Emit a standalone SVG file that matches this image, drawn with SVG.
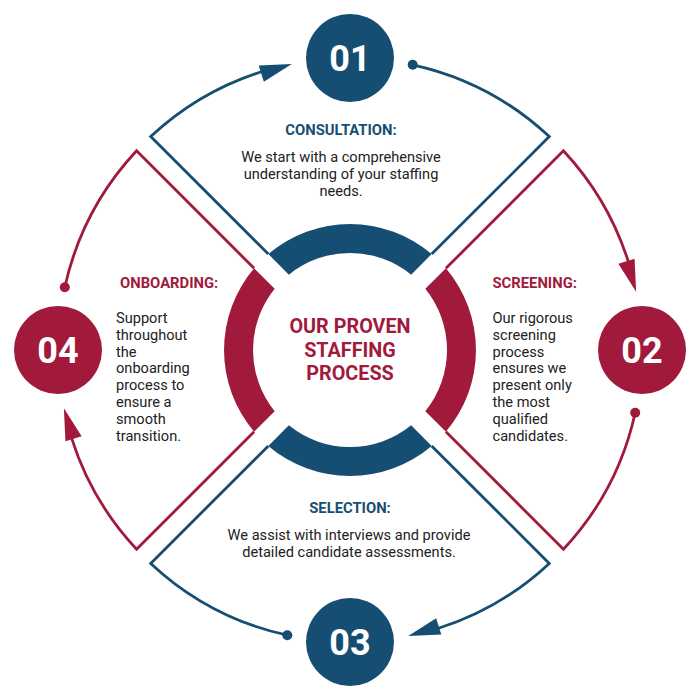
<svg xmlns="http://www.w3.org/2000/svg" xmlns:xlink="http://www.w3.org/1999/xlink" width="700" height="700" viewBox="0 0 700 700">
<style>
.blue{stroke:#164e73;fill:none;stroke-width:2.8}
.red{stroke:#a11a3c;fill:none;stroke-width:2.8}
.bfill{fill:#164e73}
.rfill{fill:#a11a3c}
.num{font-family:Roboto,"Liberation Sans",sans-serif;font-weight:700;font-size:36px;fill:#fff;text-anchor:middle}
.head{font-family:Roboto,"Liberation Sans",sans-serif;font-weight:700;font-size:14.8px}
.body{font-family:Roboto,"Liberation Sans",sans-serif;font-size:14.6px;fill:#222}
.mid{text-anchor:middle}
.title{font-family:Roboto,"Liberation Sans",sans-serif;font-weight:700;font-size:19.8px;fill:#a11a3c;text-anchor:middle}
</style>
<defs>
<polygon id="ah" points="0,0 -32,-8.5 -32,8.5"/>
</defs>
<rect width="700" height="700" fill="#fff"/>
<g id="ring">
<path class="bfill" d="M268.3,254.1 A126,126 0 0 1 431.7,254.1 L411.15,274.71 A97,97 0 0 0 288.85,274.71 Z"/>
<path class="rfill" d="M445.9,268.3 A126,126 0 0 1 445.9,431.7 L425.29,411.15 A97,97 0 0 0 425.29,288.85 Z"/>
<path class="bfill" d="M431.7,445.9 A126,126 0 0 1 268.3,445.9 L288.85,425.29 A97,97 0 0 0 411.15,425.29 Z"/>
<path class="rfill" d="M254.1,431.7 A126,126 0 0 1 254.1,268.3 L274.71,288.85 A97,97 0 0 0 274.71,411.15 Z"/>
</g>
<g id="connectors">
<path class="blue" d="M268.3,254.1 L150.7,136.6 A292,292 0 0 1 262.2,71.5"/>
<path class="blue" d="M431.7,254.1 L549.3,136.6 A292,292 0 0 0 412.7,64.8"/>
<use href="#ah" class="bfill" transform="translate(291.8,63.9) rotate(-17.5)"/>
<circle class="bfill" cx="412.7" cy="64.8" r="5"/>
<path class="red" d="M445.9,268.3 L563.4,150.7 A292,292 0 0 1 628.5,262.2"/>
<path class="red" d="M445.9,431.7 L563.4,549.3 A292,292 0 0 0 635.2,412.7"/>
<use href="#ah" class="rfill" transform="translate(636.1,291.8) rotate(72.5)"/>
<circle class="rfill" cx="635.2" cy="412.7" r="5"/>
<path class="blue" d="M431.7,445.9 L549.3,563.4 A292,292 0 0 1 437.8,628.5"/>
<path class="blue" d="M268.3,445.9 L150.7,563.4 A292,292 0 0 0 287.3,635.2"/>
<use href="#ah" class="bfill" transform="translate(408.2,636.1) rotate(162.5)"/>
<circle class="bfill" cx="287.3" cy="635.2" r="5"/>
<path class="red" d="M254.1,431.7 L136.6,549.3 A292,292 0 0 1 71.5,437.8"/>
<path class="red" d="M254.1,268.3 L136.6,150.7 A292,292 0 0 0 64.8,287.3"/>
<use href="#ah" class="rfill" transform="translate(63.9,408.2) rotate(252.5)"/>
<circle class="rfill" cx="64.8" cy="287.3" r="5"/>
</g>
<g id="center">
<text class="title" x="350" y="333">OUR PROVEN</text>
<text class="title" x="350" y="356.5">STAFFING</text>
<text class="title" x="350" y="380">PROCESS</text>
</g>
<g id="step01">
<circle class="bfill" cx="350" cy="58" r="44"/>
<text class="num" x="350" y="71">01</text>
<text class="head mid" x="341" y="135" fill="#164e73">CONSULTATION:</text>
<text class="body mid" x="341"><tspan x="341" y="162">We start with a comprehensive</tspan><tspan x="341" y="179">understanding of your staffing</tspan><tspan x="341" y="196">needs.</tspan></text>
</g>
<g id="step02">
<circle class="rfill" cx="642" cy="350" r="44"/>
<text class="num" x="642" y="363">02</text>
<text class="head" x="492.5" y="288" fill="#a11a3c">SCREENING:</text>
<text class="body"><tspan x="492.5" y="322.7">Our rigorous</tspan><tspan x="492.5" y="339.6">screening</tspan><tspan x="492.5" y="356.5">process</tspan><tspan x="492.5" y="373.4">ensures we</tspan><tspan x="492.5" y="390.3">present only</tspan><tspan x="492.5" y="407.2">the most</tspan><tspan x="492.5" y="424.1">qualified</tspan><tspan x="492.5" y="441">candidates.</tspan></text>
</g>
<g id="step03">
<circle class="bfill" cx="350" cy="642" r="44"/>
<text class="num" x="350" y="655">03</text>
<text class="head mid" x="350" y="513" fill="#164e73">SELECTION:</text>
<text class="body mid"><tspan x="349" y="539.5">We assist with interviews and provide</tspan><tspan x="349" y="556.5">detailed candidate assessments.</tspan></text>
</g>
<g id="step04">
<circle class="rfill" cx="58" cy="350" r="44"/>
<text class="num" x="58" y="363">04</text>
<text class="head" x="120" y="288" fill="#a11a3c">ONBOARDING:</text>
<text class="body"><tspan x="116" y="322.7">Support</tspan><tspan x="116" y="339.6">throughout</tspan><tspan x="116" y="356.5">the</tspan><tspan x="116" y="373.4">onboarding</tspan><tspan x="116" y="390.3">process to</tspan><tspan x="116" y="407.2">ensure a</tspan><tspan x="116" y="424.1">smooth</tspan><tspan x="116" y="441">transition.</tspan></text>
</g>
</svg>
